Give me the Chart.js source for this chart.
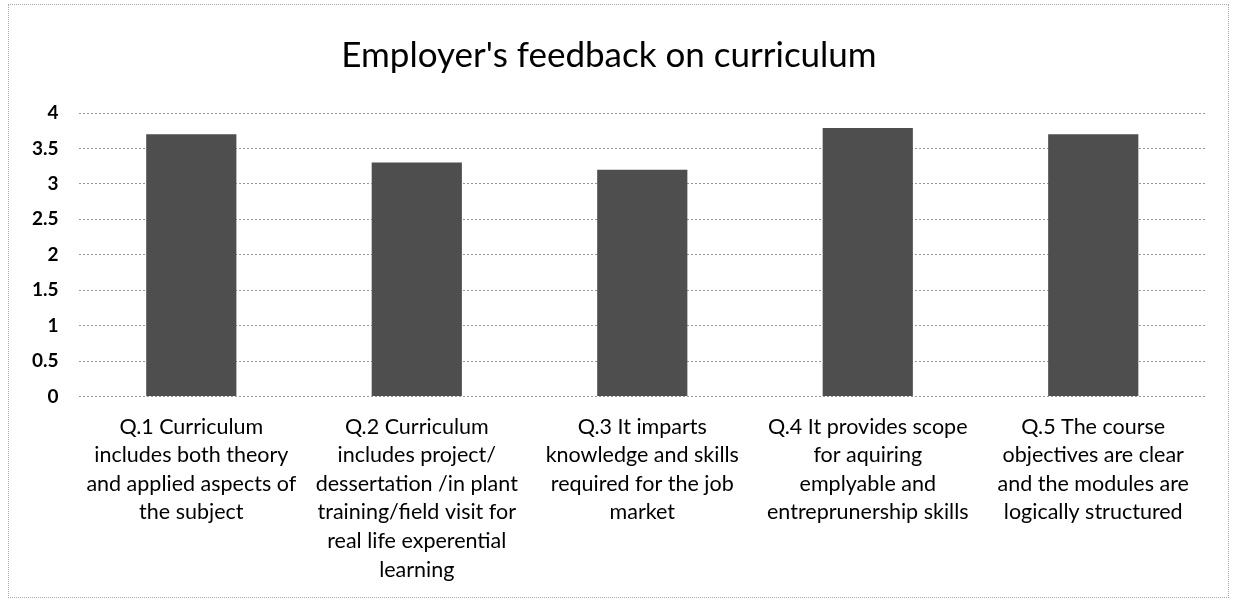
<!DOCTYPE html>
<html><head><meta charset="utf-8">
<script src="https://cdn.jsdelivr.net/npm/chart.js@4/dist/chart.umd.min.js"></script>
<style>
html,body{margin:0;padding:0;background:#fff;}
#wrap{position:absolute;left:8px;top:4px;width:1221px;height:594px;border:1px dotted #aaa;box-sizing:border-box;}
canvas{display:block;}
</style></head>
<body>
<div id="wrap"><canvas id="c"></canvas></div>
<script>
const title = "Employer's feedback on curriculum";
const categories = [
  ["Q.1 Curriculum","includes both theory","and applied aspects of","the subject"],
  ["Q.2 Curriculum","includes project/","dessertation /in plant","training/field visit for","real life experential","learning"],
  ["Q.3 It imparts","knowledge and skills","required for the job","market"],
  ["Q.4 It provides scope","for aquiring","emplyable and","entreprunership skills"],
  ["Q.5 The course","objectives are clear","and the modules are","logically structured"]
];
const scores = [3.70, 3.30, 3.20, 3.79, 3.70];
const yTicks = [0,0.5,1,1.5,2,2.5,3,3.5,4];

new Chart(document.getElementById('c'), {
  type:'bar',
  data:{labels:categories, datasets:[{data:scores, backgroundColor:'#4e4e4e', borderWidth:0, barPercentage:0.4, categoryPercentage:1}]},
  options:{
    responsive:true, maintainAspectRatio:false, animation:false,
    layout:{padding:{left:3,right:22,top:8,bottom:5}},
    plugins:{
      legend:{display:false},
      tooltip:{enabled:false},
      title:{display:true,text:title,color:'#000',font:{family:'Lato',size:35,weight:'normal'},padding:{top:22,bottom:36}}
    },
    scales:{
      x:{grid:{display:false},border:{display:false},
         ticks:{color:'#000',font:{family:'Lato',size:21.5,lineHeight:1.33},maxRotation:0,autoSkip:false,padding:8}},
      y:{min:0,max:4,afterBuildTicks:(ax)=>{ax.ticks=yTicks.map(v=>({value:v}));},
         grid:{color:'#999',lineWidth:1,drawTicks:false},
         border:{display:false,dash:[2,2]},
         ticks:{color:'#000',font:{family:'Lato',size:19,weight:'bold'},padding:20,callback:v=>String(v)}}
    }
  }
});
</script>
</body></html>
